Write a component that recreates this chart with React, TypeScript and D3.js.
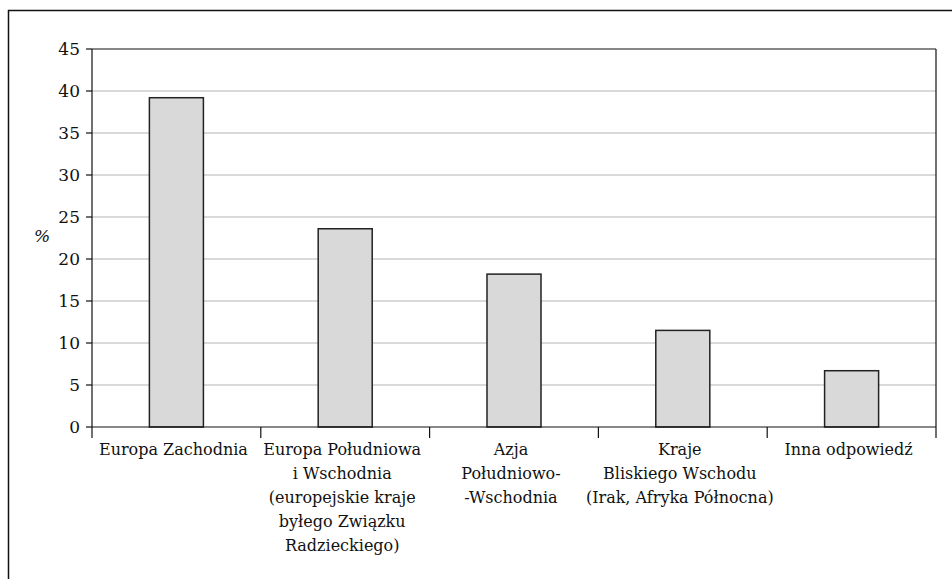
import React from "react";
import * as d3 from "d3";

const categories: string[][] = [
  ["Europa Zachodnia"],
  ["Europa Południowa", "i Wschodnia", "(europejskie kraje", "byłego Związku", "Radzieckiego)"],
  ["Azja", "Południowo-", "-Wschodnia"],
  ["Kraje", "Bliskiego Wschodu", "(Irak, Afryka Północna)"],
  ["Inna odpowiedź"],
];
const values: number[] = [39.2, 23.6, 18.2, 11.5, 6.7];
const yTicks: number[] = [0, 5, 10, 15, 20, 25, 30, 35, 40, 45];
const yLabel = "%";

const W = 952;
const H = 579;
const plot = { left: 92, right: 936, top: 49, bottom: 427 };
const FONT = "'DejaVu Serif'";
const ts = { fontFamily: FONT };

export default function App() {
  const idx = categories.map((_, i) => i);
  const x = d3
    .scaleBand<number>()
    .domain(idx)
    .range([plot.left, plot.right])
    .paddingInner(0)
    .paddingOuter(0);
  const y = d3.scaleLinear().domain([0, 45]).range([plot.bottom, plot.top]);
  const bw = x.bandwidth() * 0.32;
  const boundaries = idx.map((i) => x(i)!).concat([plot.right]);

  return (
    <svg
      width={W}
      height={H}
      style={{ position: "absolute", left: 0, top: 0, background: "#fff" }}
    >
      <rect x={8.5} y={10.5} width={1100} height={700} fill="none" stroke="#111" strokeWidth={1.5} />
      {yTicks.map((t) =>
        t === 0 || t === 45 ? null : (
          <line key={"g" + t} x1={plot.left} x2={plot.right} y1={y(t)} y2={y(t)} stroke="#b4b4b4" strokeWidth={1.2} />
        )
      )}
      <line x1={plot.left} x2={plot.right} y1={plot.top} y2={plot.top} stroke="#111" strokeWidth={1.2} />
      <line x1={plot.right} x2={plot.right} y1={plot.top} y2={plot.bottom} stroke="#111" strokeWidth={1.2} />
      {values.map((v, i) => (
        <rect
          key={"b" + i}
          x={x(i)! + x.bandwidth() / 2 - bw / 2}
          y={y(v)}
          width={bw}
          height={y(0) - y(v)}
          fill="#d9d9d9"
          stroke="#222"
          strokeWidth={1.5}
        />
      ))}
      <line x1={plot.left} x2={plot.left} y1={plot.top} y2={plot.bottom} stroke="#111" strokeWidth={1.2} />
      <line x1={plot.left} x2={plot.right} y1={plot.bottom} y2={plot.bottom} stroke="#111" strokeWidth={1.2} />
      {yTicks.map((t) => (
        <g key={"t" + t}>
          <line x1={plot.left - 6} x2={plot.left} y1={y(t)} y2={y(t)} stroke="#111" strokeWidth={1.2} />
          <text x={80} y={y(t)} dy="0.34em" textAnchor="end" fontSize={17} fill="#111" style={ts}>
            {t}
          </text>
        </g>
      ))}
      {boundaries.map((b, i) => (
        <line key={"xt" + i} x1={b} x2={b} y1={plot.bottom} y2={plot.bottom + 11} stroke="#111" strokeWidth={1.2} />
      ))}
      {categories.map((lines, i) => (
        <text key={"c" + i} x={x(i)! + x.bandwidth() / 2 - 3} y={455} textAnchor="middle" fontSize={16} fill="#111" style={ts}>
          {lines.map((l, j) => (
            <tspan key={j} x={x(i)! + x.bandwidth() / 2 - 3} y={455 + j * 24}>
              {l}
            </tspan>
          ))}
        </text>
      ))}
      <text x={42} y={242} textAnchor="middle" fontSize={17} fontStyle="italic" fill="#111" style={ts}>
        {yLabel}
      </text>
    </svg>
  );
}
